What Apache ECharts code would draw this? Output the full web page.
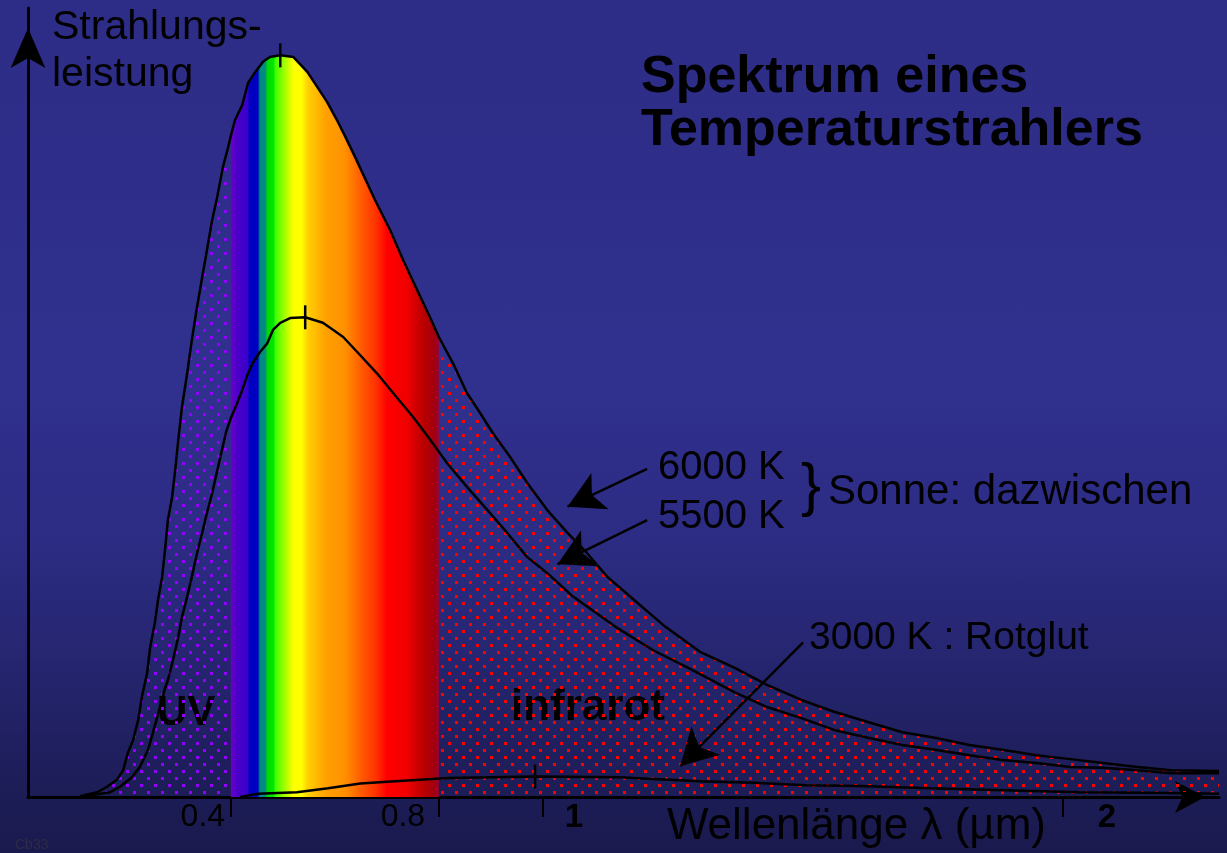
<!DOCTYPE html>
<html>
<head>
<meta charset="utf-8">
<title>Spektrum eines Temperaturstrahlers</title>
<script src="https://cdn.jsdelivr.net/npm/echarts@6/dist/echarts.min.js"></script>
<style>
    html, body {margin: 0; padding: 0;}
    #chart {
        width: 1227px;
        height: 853px;
        background: linear-gradient(to bottom, #2d2d87 0%, #30308e 45%, #2c2c84 63%, #24246c 80%, #1d1d58 92%, #1a1a4e 100%);
    }
</style>
</head>
<body>
<div id="chart"></div>
<script>
// Wellenlaenge in um, Strahlungsleistung in willkuerlichen Einheiten
const wl6000 = [0.110, 0.143, 0.162, 0.181, 0.193, 0.202, 0.212, 0.222, 0.229, 0.239, 0.245, 0.254, 0.260, 0.268, 0.274, 0.279, 0.287, 0.293, 0.299, 0.306,
    0.316, 0.325, 0.335, 0.345, 0.354, 0.364, 0.374, 0.385, 0.395, 0.400, 0.408, 0.422, 0.433, 0.447, 0.462, 0.475, 0.495, 0.520, 0.547, 0.566,
    0.585, 0.604, 0.620, 0.639, 0.677, 0.706, 0.731, 0.758, 0.783, 0.800, 0.827, 0.854, 0.879, 0.904, 0.937, 0.970, 1.008, 1.047, 1.085, 1.124,
    1.175, 1.235, 1.302, 1.368, 1.431, 1.497, 1.560, 1.625, 1.691, 1.754, 1.820, 1.883, 1.949, 2.014, 2.077, 2.143, 2.208, 2.300];
const p6000 = [0.1, 0.6, 1.3, 2.2, 3.4, 5.6, 7.2, 9.8, 12.7, 15.7, 19.0, 22.1, 25.0, 27.9, 31.7, 35.1, 38.0, 41.4, 45.3, 49.4,
    53.7, 57.9, 62.1, 65.9, 69.3, 73.1, 76.1, 79.9, 82.4, 83.8, 85.8, 87.7, 90.5, 91.9, 93.2, 93.8, 94.0, 93.8, 91.9, 90.0,
    88.1, 85.8, 83.7, 81.1, 75.7, 71.9, 68.1, 64.3, 60.8, 58.3, 55.0, 51.2, 48.7, 46.1, 43.1, 39.8, 36.4, 33.5, 30.9, 27.9,
    25.0, 21.6, 18.4, 16.4, 14.2, 12.3, 10.8, 9.5, 8.2, 7.5, 6.6, 6.0, 5.3, 4.8, 4.3, 3.8, 3.4, 3.3];

const wl5500 = [0.110, 0.168, 0.187, 0.210, 0.225, 0.241, 0.250, 0.274, 0.279, 0.289, 0.299, 0.306, 0.316, 0.325, 0.335, 0.345, 0.354, 0.364, 0.374, 0.383,
    0.391, 0.400, 0.412, 0.422, 0.433, 0.443, 0.456, 0.470, 0.481, 0.495, 0.514, 0.543, 0.577, 0.597, 0.616, 0.643, 0.681, 0.712, 0.750, 0.783,
    0.816, 0.854, 0.893, 0.931, 0.970, 1.008, 1.058, 1.139, 1.212, 1.287, 1.368, 1.431, 1.497, 1.560, 1.625, 1.691, 1.754, 1.820, 1.883, 1.949,
    2.014, 2.077, 2.143, 2.208, 2.300];
const p5500 = [0.0, 0.6, 1.3, 2.5, 3.8, 6.0, 8.1, 13.9, 14.8, 17.4, 20.3, 22.8, 25.4, 27.9, 30.9, 33.5, 36.0, 38.5, 41.4, 44.0,
    46.3, 48.0, 49.9, 51.6, 53.7, 55.1, 56.4, 57.5, 59.2, 60.1, 60.7, 60.8, 60.1, 59.2, 58.3, 56.4, 53.7, 51.2, 48.2, 45.3,
    42.3, 39.3, 36.4, 33.5, 30.4, 28.4, 25.4, 21.6, 18.6, 16.1, 13.3, 11.4, 10.0, 8.5, 7.5, 6.6, 6.0, 5.3, 4.7, 4.3,
    3.8, 3.7, 3.4, 3.0, 3.0];

const wl3000 = [0.418, 0.452, 0.527, 0.587, 0.649, 0.716, 0.818, 0.985, 1.149, 1.202, 1.302, 1.406, 1.506, 1.608, 1.745, 1.866, 2.033, 2.210, 2.300];
const p3000 = [0.0, 0.4, 0.6, 1.1, 1.7, 2.0, 2.4, 2.6, 2.5, 2.3, 2.0, 1.8, 1.5, 1.4, 1.1, 0.9, 0.6, 0.5, 0.4];

const tickValues = [0.4, 0.8, 1, 2];
const visibleFrom = 0.4;
const visibleTo = 0.8;

// Pfeile: [von, nach] in Achsenwerten
const arrow6000 = [[1.2004, 41.6], [1.0473, 36.8]];
const arrow5500 = [[1.2004, 35.1], [1.0281, 29.5]];
const arrow3000 = [[1.5004, 19.6], [1.2642, 3.9]];

const pts6000 = wl6000.map((w, i) => [w, p6000[i]]);
const pts5500 = wl5500.map((w, i) => [w, p5500[i]]);
const pts3000 = wl3000.map((w, i) => [w, p3000[i]]);

function dots(color, w, h) {
    let c = document.createElement('canvas');
    c.width = 14;
    c.height = 14;
    let ctx = c.getContext('2d');
    ctx.fillStyle = color;
    ctx.fillRect(0, 0, w, h);
    ctx.fillRect(7, 7, w, h);
    return c;
}

const font = '"Liberation Sans", Arial, sans-serif';

function areaPart(data, fill) {
    return {
        type: 'line',
        data: data,
        showSymbol: false,
        silent: true,
        lineStyle: {width: 0},
        areaStyle: {color: fill, opacity: 1},
        z: 1
    };
}

function curve(name, data, extra) {
    return Object.assign({
        name: name,
        type: 'line',
        data: data,
        showSymbol: false,
        silent: true,
        lineStyle: {color: '#000', width: 2.5},
        markPoint: {
            symbol: 'rect',
            symbolSize: [2.5, 24],
            itemStyle: {color: '#000'},
            label: {show: false},
            data: [{type: 'max', valueIndex: 1}]
        },
        z: 3
    }, extra || {});
}

function arrowLine(a) {
    return [{coord: a[0]}, {coord: a[1]}];
}

let myChart = echarts.init(document.getElementById('chart'), null, {renderer: 'canvas'});

myChart.setOption({
    backgroundColor: 'transparent',
    animation: false,
    grid: {left: 28, right: 8, top: 8, bottom: 56, containLabel: false, outerBoundsMode: 'none'},
    xAxis: {
        type: 'value',
        min: 0.01,
        max: 2.3,
        name: 'Wellenlänge λ (µm)',
        nameLocation: 'end',
        nameGap: -173,
        nameMoveOverlap: false,
        nameTextStyle: {
            color: '#000', fontFamily: font, fontSize: 44, lineHeight: 50,
            align: 'right', verticalAlign: 'top', padding: [5, 0, 0, 0]
        },
        splitLine: {show: false},
        axisLine: {
            lineStyle: {color: '#000', width: 3},
            symbol: ['none', 'arrow'],
            symbolSize: [24, 30],
            symbolOffset: [0, -14]
        },
        axisTick: {
            customValues: tickValues,
            length: 20,
            lineStyle: {color: '#000', width: 2}
        },
        axisLabel: {
            customValues: tickValues,
            margin: 4,
            color: '#000',
            formatter: function (v) {
                if (v === 0.4) return '{a|0.4}';
                if (v === 0.8) return '{b|0.8}';
                if (v === 1) return '{c|1}';
                return '{d|' + v + '}';
            },
            rich: {
                a: {fontFamily: font, fontSize: 32, color: '#000', padding: [0, 56, 0, 0]},
                b: {fontFamily: font, fontSize: 32, color: '#000', padding: [0, 72, 0, 0]},
                c: {fontFamily: font, fontSize: 33, fontWeight: 'bold', color: '#000', padding: [0, 0, 0, 62]},
                d: {fontFamily: font, fontSize: 33, fontWeight: 'bold', color: '#000', padding: [0, 0, 0, 88]}
            }
        }
    },
    yAxis: {
        type: 'value',
        min: 0,
        max: 100,
        name: 'Strahlungs-\nleistung',
        nameLocation: 'end',
        nameGap: 4,
        nameTextStyle: {
            color: '#000', fontFamily: font, fontSize: 41, lineHeight: 47,
            align: 'left', verticalAlign: 'top', padding: [0, 0, 0, 24]
        },
        splitLine: {show: false},
        axisTick: {show: false},
        axisLabel: {show: false},
        axisLine: {
            lineStyle: {color: '#000', width: 3},
            symbol: ['none', 'arrow'],
            symbolSize: [26, 40],
            symbolOffset: [0, -20]
        }
    },
    series: [
        areaPart(pts6000.filter(p => p[0] <= visibleFrom), {image: dots('#9400ff', 3, 3), repeat: 'repeat'}),
        areaPart(pts6000.filter(p => p[0] >= visibleFrom && p[0] <= visibleTo), {
            type: 'linear', x: 0, y: 0, x2: 1, y2: 0,
            colorStops: [
                {offset: 0.00, color: '#6a00c8'},
                {offset: 0.03, color: '#4c00c8'},
                {offset: 0.08, color: '#3800cc'},
                {offset: 0.09, color: '#0000c0'},
                {offset: 0.13, color: '#0000c0'},
                {offset: 0.14, color: '#008a80'},
                {offset: 0.165, color: '#008a80'},
                {offset: 0.175, color: '#00d800'},
                {offset: 0.205, color: '#00e800'},
                {offset: 0.215, color: '#40ff00'},
                {offset: 0.25, color: '#90ff00'},
                {offset: 0.28, color: '#d0ff00'},
                {offset: 0.30, color: '#ffff00'},
                {offset: 0.34, color: '#ffff00'},
                {offset: 0.37, color: '#ffd000'},
                {offset: 0.42, color: '#ffb400'},
                {offset: 0.46, color: '#ffa000'},
                {offset: 0.55, color: '#ff9000'},
                {offset: 0.62, color: '#ff6000'},
                {offset: 0.70, color: '#ff3000'},
                {offset: 0.75, color: '#ff0000'},
                {offset: 0.85, color: '#f00000'},
                {offset: 0.88, color: '#d80000'},
                {offset: 0.93, color: '#b80000'},
                {offset: 0.98, color: '#a00010'},
                {offset: 1.00, color: '#a00030'}
            ]
        }),
        areaPart(pts6000.filter(p => p[0] >= visibleTo), {image: dots('#ff0000', 3, 3), repeat: 'repeat'}),
        curve('6000 K', pts6000, {
            markLine: {
                silent: true,
                symbol: ['none', 'arrow'],
                symbolSize: [30, 36],
                label: {show: false},
                lineStyle: {color: '#000', width: 2.5, type: 'solid'},
                data: [arrowLine(arrow6000), arrowLine(arrow5500), arrowLine(arrow3000)]
            }
        }),
        curve('5500 K', pts5500),
        curve('3000 K', pts3000)
    ],
    graphic: [
        {type: 'text', x: 641, y: 78, style: {text: 'Spektrum eines', font: 'bold 52px ' + font, fill: '#000', align: 'left', verticalAlign: 'middle'}},
        {type: 'text', x: 641, y: 131, style: {text: 'Temperaturstrahlers', font: 'bold 52px ' + font, fill: '#000', align: 'left', verticalAlign: 'middle'}},
        {type: 'text', x: 658, y: 468, style: {text: '6000 K', font: '40px ' + font, fill: '#000', align: 'left', verticalAlign: 'middle'}},
        {type: 'text', x: 658, y: 517, style: {text: '5500 K', font: '40px ' + font, fill: '#000', align: 'left', verticalAlign: 'middle'}},
        {type: 'text', x: 811, y: 488, style: {text: '}', font: '60px ' + font, fill: '#000', align: 'center', verticalAlign: 'middle'}},
        {type: 'text', x: 828, y: 492, style: {text: 'Sonne: dazwischen', font: '42px ' + font, fill: '#000', align: 'left', verticalAlign: 'middle'}},
        {type: 'text', x: 809, y: 638, style: {text: '3000 K : Rotglut', font: '39px ' + font, fill: '#000', align: 'left', verticalAlign: 'middle'}},
        {type: 'text', x: 157, y: 713, style: {text: 'UV', font: 'bold 42px ' + font, fill: '#000', align: 'left', verticalAlign: 'middle'}},
        {type: 'text', x: 511, y: 708, style: {text: 'infrarot', font: 'bold 44px ' + font, fill: '#000', align: 'left', verticalAlign: 'middle'}},
        {type: 'text', x: 15, y: 845, style: {text: 'Cb33', font: '14px ' + font, fill: '#2c2c48', align: 'left', verticalAlign: 'middle'}}
    ]
});
</script>
</body>
</html>
